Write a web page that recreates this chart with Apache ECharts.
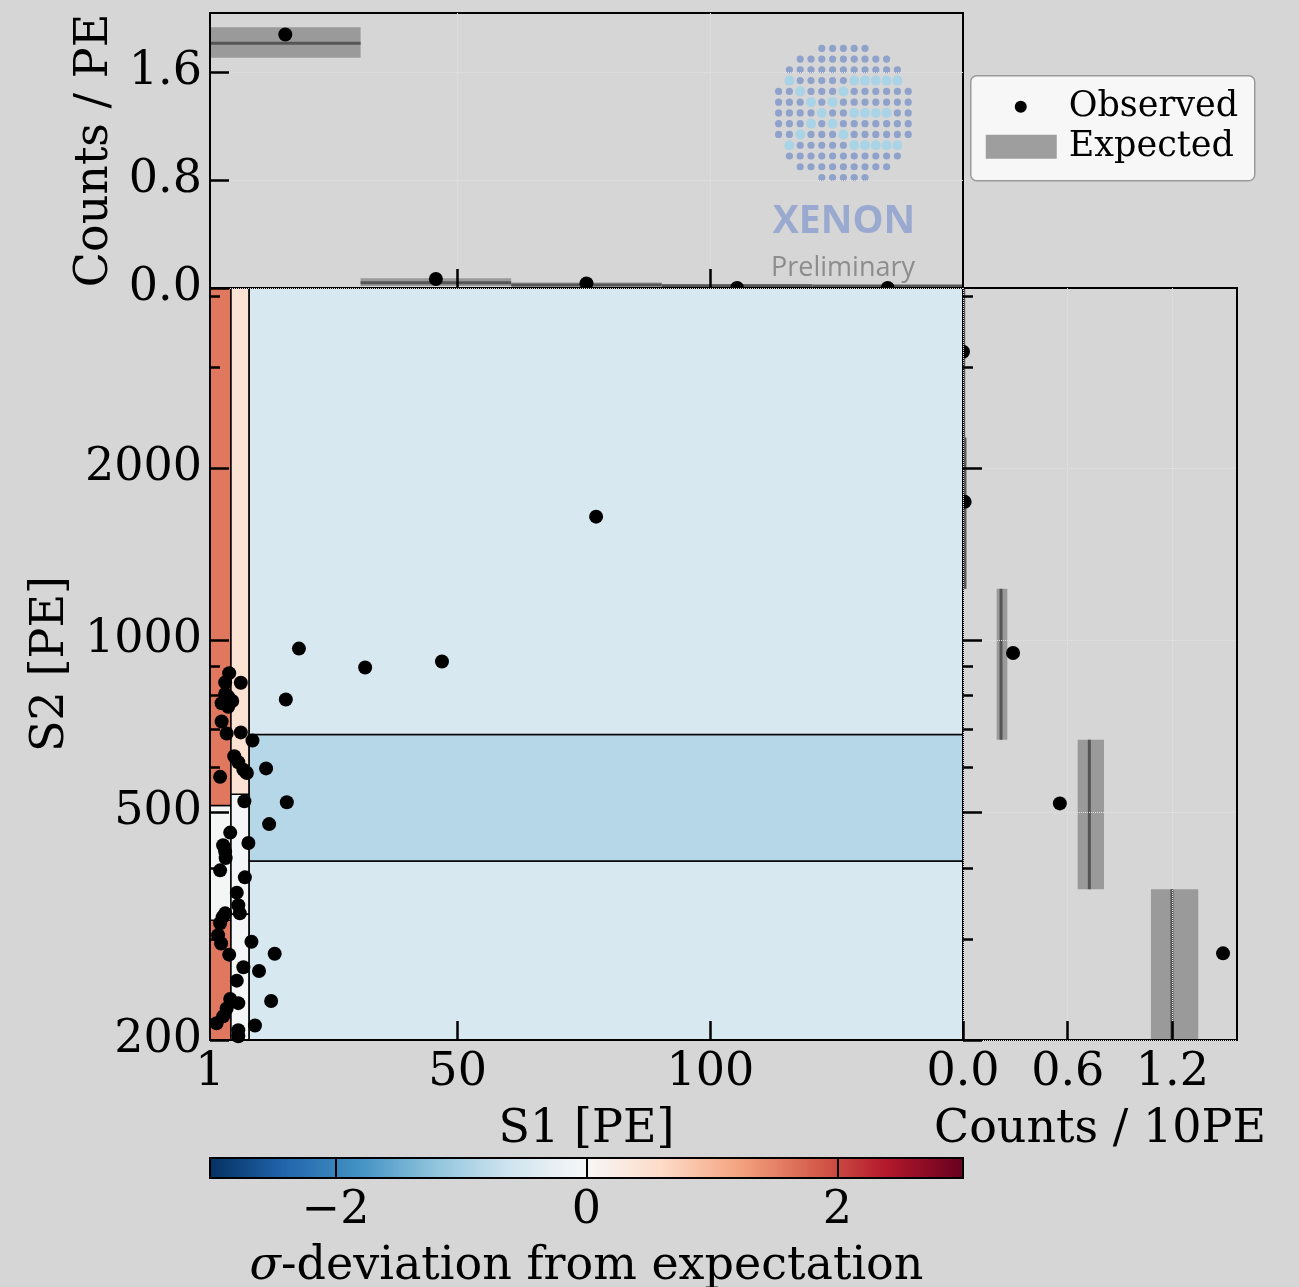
<!DOCTYPE html>
<html lang="en">
<head>
<meta charset="UTF-8">
<title>S1 / S2 observed vs expected</title>
<script src="https://cdn.jsdelivr.net/npm/echarts@6/dist/echarts.min.js"></script>
<style>
  html, body { margin: 0; padding: 0; background: #d6d6d6; }
  #chart { width: 1299px; height: 1287px; }
</style>
</head>
<body>
<div id="chart"></div>
<script>
// observed events (S1, S2)
var s1Obs = [77.4, 18.6, 31.7, 46.9, 16.0, 12.1, 16.2, 12.7, 13.8, 10.7, 13.1, 9.9, 9.4, 9.2,
             7.1, 7.1, 8.1, 7.6, 6.6, 7.8, 8.6, 7.9, 4.8, 4.0, 4.0, 5.4, 3.3, 3.3, 4.3, 5.8,
             3.0, 5.0, 3.6, 4.0, 4.1, 3.0, 6.3, 6.6, 6.9, 4.0, 3.0, 2.6, 3.2, 4.8, 7.6, 6.3,
             5.0, 6.6, 4.3, 3.6, 2.3, 6.6, 6.6, 4.6, 8.3, 3.5, 4.6];
var s2Obs = [1645, 967, 896, 918, 788, 597, 521, 477, 283, 264, 234, 212, 668, 297,
             843, 690, 588, 594, 612, 523, 442, 385, 876, 844, 806, 783, 776, 721, 687, 627,
             577, 461, 438, 427, 416, 396, 362, 344, 333, 333, 320, 305, 295, 282, 268, 254,
             236, 232, 227, 220, 214, 208, 203, 797, 586, 328, 765];

// sigma-deviation cells
var cellS1Lo = [1, 1, 1, 5.15, 5.15, 5.15, 8.75, 8.75, 8.75];
var cellS1Hi = [5.15, 5.15, 5.15, 8.75, 8.75, 8.75, 150, 150, 150];
var cellS2Lo = [200, 324, 514, 200, 332, 538, 200, 411, 684];
var cellS2Hi = [324, 514, 4130, 332, 538, 4130, 411, 684, 4130];
var cellSigma = [1.6, -0.05, 1.6, -0.03, -0.07, 0.45, -0.5, -0.87, -0.5];

// top marginal (counts / PE in S1 bins)
var topEdges = [1, 30.8, 60.6, 90.4, 120.2, 150];
var topExpMid = [1.815, 0.039, 0.022, 0.017, 0.014];
var topExpLo = [1.708, 0.015, 0.013, 0.011, 0.010];
var topExpHi = [1.934, 0.072, 0.040, 0.028, 0.022];
var topObs = [1.88, 0.067, 0.034, 0, 0];

// right marginal (counts / 10PE in S2 bins)
var rightEdges = [200, 367, 670, 1230, 2262, 4130];
var rightExpMid = [1.197, 0.724, 0.218, 0.011, 0.004];
var rightExpLo = [1.077, 0.657, 0.193, 0.006, 0.002];
var rightExpHi = [1.348, 0.808, 0.254, 0.018, 0.008];
var rightObs = [1.49, 0.555, 0.287, 0.0095, 0];

// ticks
var s1Labels = [1, 50, 100];
var s1Ticks = [50, 100];
var s2Major = [200, 500, 1000, 2000];
var s2Minor = [300, 400, 600, 700, 800, 900, 3000, 4000];
var topTicks = [0, 0.8, 1.6];
var rightTicks = [0, 0.6, 1.2];
var sigmaTicks = [-2, 0, 2];

// RdBu_r
var palette = ['#053061', '#2166ac', '#4393c3', '#92c5de', '#d1e5f0', '#f7f7f7',
               '#fddbc7', '#f4a582', '#d6604d', '#b2182b', '#67001f'];

var font = 'DejaVu Serif';
var labelStyle = { fontFamily: font, fontSize: 46, color: '#000' };

var mainPts = s1Obs.map(function (x, i) { return [x, s2Obs[i]]; });
var cells = cellSigma.map(function (s, i) {
    return [cellS1Lo[i], cellS1Hi[i], cellS2Lo[i], cellS2Hi[i], s];
});
var topExp = topExpMid.map(function (m, i) {
    return [topEdges[i], topEdges[i + 1], topExpLo[i], topExpHi[i], m];
});
var topPts = topObs.map(function (v, i) { return [(topEdges[i] + topEdges[i + 1]) / 2, v]; });
var rightExp = rightExpMid.map(function (m, i) {
    return [rightEdges[i], rightEdges[i + 1], rightExpLo[i], rightExpHi[i], m];
});
var rightPts = rightObs.map(function (v, i) { return [v, (rightEdges[i] + rightEdges[i + 1]) / 2]; });

function rectOf(a, b) {
    return {
        x: Math.min(a[0], b[0]), y: Math.min(a[1], b[1]),
        width: Math.abs(b[0] - a[0]), height: Math.abs(b[1] - a[1])
    };
}

function renderCell(params, api) {
    var a = api.coord([api.value(0), api.value(3)]);
    var b = api.coord([api.value(1), api.value(2)]);
    return {
        type: 'rect', shape: rectOf(a, b),
        style: { fill: api.visual('color'), stroke: '#000', lineWidth: 1.5 }
    };
}

function renderTopExp(params, api) {
    var a = api.coord([api.value(0), api.value(3)]);
    var b = api.coord([api.value(1), api.value(2)]);
    var m0 = api.coord([api.value(0), api.value(4)]);
    var m1 = api.coord([api.value(1), api.value(4)]);
    return {
        type: 'group', children: [
            { type: 'rect', shape: rectOf(a, b), style: { fill: '#9a9a9a' } },
            { type: 'line', shape: { x1: m0[0], y1: m0[1], x2: m1[0], y2: m1[1] },
              style: { stroke: '#555', lineWidth: 3 } }
        ]
    };
}

function renderRightExp(params, api) {
    var a = api.coord([api.value(2), api.value(1)]);
    var b = api.coord([api.value(3), api.value(0)]);
    var m0 = api.coord([api.value(4), api.value(0)]);
    var m1 = api.coord([api.value(4), api.value(1)]);
    return {
        type: 'group', children: [
            { type: 'rect', shape: rectOf(a, b), style: { fill: '#9a9a9a' } },
            { type: 'line', shape: { x1: m0[0], y1: m0[1], x2: m1[0], y2: m1[1] },
              style: { stroke: '#555', lineWidth: 3 } }
        ]
    };
}

function renderBar(params, api) {
    var a = api.coord([api.value(0), 1]);
    var b = api.coord([api.value(1), 0]);
    var stops = palette.map(function (c, i) { return { offset: i / (palette.length - 1), color: c }; });
    return {
        type: 'rect', shape: rectOf(a, b),
        style: { fill: new echarts.graphic.LinearGradient(0, 0, 1, 0, stops) }
    };
}

// XENON watermark dots
var logoRows = [[4, 8], [2, 10], [1, 11], [1, 11], [0, 12], [0, 12], [0, 12], [0, 12], [0, 12], [1, 11], [1, 11], [2, 10], [4, 8]];
var logoLight = {
    3: [1, 7, 8, 9, 10, 11], 4: [2, 6], 5: [3, 5], 6: [4, 7, 8, 9, 10],
    7: [3, 5], 8: [2, 6], 9: [1, 7, 8, 9, 10, 11]
};
var logoDots = [];
logoRows.forEach(function (rg, r) {
    for (var c = rg[0]; c <= rg[1]; c++) {
        var light = (logoLight[r] || []).indexOf(c) >= 0;
        logoDots.push({
            type: 'circle',
            shape: { cx: 778.6 + 10.8 * c, cy: 48.3 + 10.77 * r, r: light ? 5 : 3.6 },
            style: { fill: light ? '#a9d3e6' : '#8ea2cb' }
        });
    }
});

var dotted = { show: true, lineStyle: { color: '#e2e2e2', type: 'dotted', width: 1 } };
var majorTick = function (vals, len) {
    return { show: true, inside: true, length: len, customValues: vals, lineStyle: { color: '#000', width: 2.5 } };
};
var dotStyle = { color: '#000', opacity: 1 };
var frame = { show: true, z: 10, backgroundColor: 'transparent', borderColor: '#000', borderWidth: 2, outerBoundsMode: 'none', containLabel: false };

var chart = echarts.init(document.getElementById('chart'));
chart.setOption({
    backgroundColor: '#d6d6d6',
    animation: false,
    grid: [
        Object.assign({ left: 210, top: 288, width: 753, height: 752 }, frame),
        Object.assign({ left: 210, top: 13, width: 753, height: 275 }, frame),
        Object.assign({ left: 963, top: 288, width: 274, height: 752 }, frame),
        Object.assign({ left: 210, top: 1158, width: 753, height: 20 }, frame)
    ],
    xAxis: [
        { type: 'value', gridIndex: 0, min: 1, max: 150, z: 10,
          axisLine: { show: false }, splitLine: { show: false },
          axisTick: majorTick(s1Ticks, 19),
          axisLabel: Object.assign({ customValues: s1Labels, margin: 10 }, labelStyle),
          name: 'S1 [PE]', nameLocation: 'middle', nameGap: 67, nameMoveOverlap: false, nameTextStyle: labelStyle },
        { type: 'value', gridIndex: 1, min: 1, max: 150, z: 10,
          axisLine: { show: false }, splitLine: dotted,
          axisTick: majorTick(s1Ticks, 19), axisLabel: { show: false } },
        { type: 'value', gridIndex: 2, min: 0, max: 1.57, z: 10,
          axisLine: { show: false }, splitLine: dotted,
          axisTick: majorTick(rightTicks, 19),
          axisLabel: Object.assign({ customValues: rightTicks, margin: 10, formatter: function (v) { return v.toFixed(1); } }, labelStyle),
          name: 'Counts / 10PE', nameLocation: 'middle', nameGap: 67, nameMoveOverlap: false, nameTextStyle: labelStyle },
        { type: 'value', gridIndex: 3, min: -3, max: 3, z: 10,
          axisLine: { show: false }, splitLine: { show: false },
          axisTick: { show: true, inside: true, length: 20, customValues: sigmaTicks, lineStyle: { color: '#000', width: 2 } },
          axisLabel: Object.assign({ customValues: sigmaTicks, margin: 10,
              formatter: function (v) { return v < 0 ? '\u2212' + Math.abs(v) : String(v); } }, labelStyle),
          name: '{i|\u03c3}-deviation from expectation', nameLocation: 'middle', nameGap: 66, nameMoveOverlap: false,
          nameTextStyle: Object.assign({ rich: { i: { fontFamily: font, fontSize: 46, fontStyle: 'italic' } } }, labelStyle) }
    ],
    yAxis: [
        { type: 'log', logBase: 10, gridIndex: 0, min: 200, max: 4130, z: 10, position: 'left',
          axisLine: { show: false }, splitLine: { show: false },
          axisTick: majorTick(s2Major, 19),
          axisLabel: Object.assign({ customValues: s2Major, margin: 8, formatter: function (v) { return String(Math.round(v)); } }, labelStyle),
          name: 'S2 [PE]', nameLocation: 'middle', nameRotate: 90, nameGap: 136, nameMoveOverlap: false, nameTextStyle: labelStyle },
        { type: 'log', logBase: 10, gridIndex: 0, min: 200, max: 4130, z: 10, position: 'left',
          axisLine: { show: false }, splitLine: { show: false },
          axisTick: majorTick(s2Minor, 10), axisLabel: { show: false } },
        { type: 'log', logBase: 10, gridIndex: 2, min: 200, max: 4130, z: 10, position: 'left',
          axisLine: { show: false }, splitLine: dotted,
          axisTick: majorTick(s2Major, 19), axisLabel: { show: false } },
        { type: 'log', logBase: 10, gridIndex: 2, min: 200, max: 4130, z: 10, position: 'left',
          axisLine: { show: false }, splitLine: { show: false },
          axisTick: majorTick(s2Minor, 10), axisLabel: { show: false } },
        { type: 'value', gridIndex: 1, min: 0, max: 2.04, z: 10, position: 'left',
          axisLine: { show: false }, splitLine: dotted,
          axisTick: majorTick(topTicks, 19),
          axisLabel: Object.assign({ customValues: topTicks, margin: 8, formatter: function (v) { return v.toFixed(1); } }, labelStyle),
          name: 'Counts / PE', nameLocation: 'middle', nameRotate: 90, nameGap: 92, nameMoveOverlap: false, nameTextStyle: labelStyle },
        { type: 'value', gridIndex: 3, min: 0, max: 1, show: false }
    ],
    visualMap: {
        type: 'continuous', show: false, min: -3, max: 3, dimension: 4, seriesIndex: 0,
        inRange: { color: palette }
    },
    graphic: [
        { type: 'group', silent: true, z: 1, children: logoDots.concat([
            { type: 'text', style: { x: 844, y: 222, text: 'XENON', fill: '#99a9cf', font: 'bold 39px "Open Sans"', align: 'center', verticalAlign: 'middle' } },
            { type: 'text', style: { x: 843, y: 268, text: 'Preliminary', fill: '#8d8d8d', font: '27px "Open Sans"', align: 'center', verticalAlign: 'middle' } }
        ]) },
        { type: 'group', left: 970, top: 75, z: 20, children: [
            { type: 'rect', shape: { x: 0, y: 0, width: 284, height: 105, r: 6 }, style: { fill: '#f7f7f7', stroke: '#9a9a9a', lineWidth: 1.5 } },
            { type: 'circle', shape: { cx: 50, cy: 31, r: 6 }, style: { fill: '#000' } },
            { type: 'rect', shape: { x: 15, y: 59, width: 71, height: 24 }, style: { fill: '#9e9e9e' } },
            { type: 'text', style: { x: 98, y: 31, text: 'Observed', font: '35px "DejaVu Serif"', fill: '#000', verticalAlign: 'middle' } },
            { type: 'text', style: { x: 98, y: 71, text: 'Expected', font: '35px "DejaVu Serif"', fill: '#000', verticalAlign: 'middle' } }
        ] }
    ],
    series: [
        { type: 'custom', name: 'sigma', xAxisIndex: 0, yAxisIndex: 0, z: 3,
          renderItem: renderCell, encode: { x: [0, 1], y: [2, 3] }, data: cells },
        { type: 'scatter', name: 'Observed', xAxisIndex: 0, yAxisIndex: 0, z: 4,
          symbolSize: 14, itemStyle: dotStyle, data: mainPts },
        { type: 'custom', name: 'Expected', xAxisIndex: 1, yAxisIndex: 4, z: 1,
          renderItem: renderTopExp, encode: { x: [0, 1], y: [2, 3, 4] }, data: topExp },
        { type: 'scatter', name: 'Observed', xAxisIndex: 1, yAxisIndex: 4, z: 2,
          symbolSize: 14, itemStyle: dotStyle, data: topPts },
        { type: 'custom', name: 'Expected', xAxisIndex: 2, yAxisIndex: 2, z: 1,
          renderItem: renderRightExp, encode: { x: [2, 3, 4], y: [0, 1] }, data: rightExp },
        { type: 'scatter', name: 'Observed', xAxisIndex: 2, yAxisIndex: 2, z: 2,
          symbolSize: 14, itemStyle: dotStyle, data: rightPts },
        { type: 'custom', name: 'colorbar', xAxisIndex: 3, yAxisIndex: 5, z: 2,
          renderItem: renderBar, encode: { x: [0, 1] }, data: [[-3, 3]] }
    ]
});
</script>
</body>
</html>
